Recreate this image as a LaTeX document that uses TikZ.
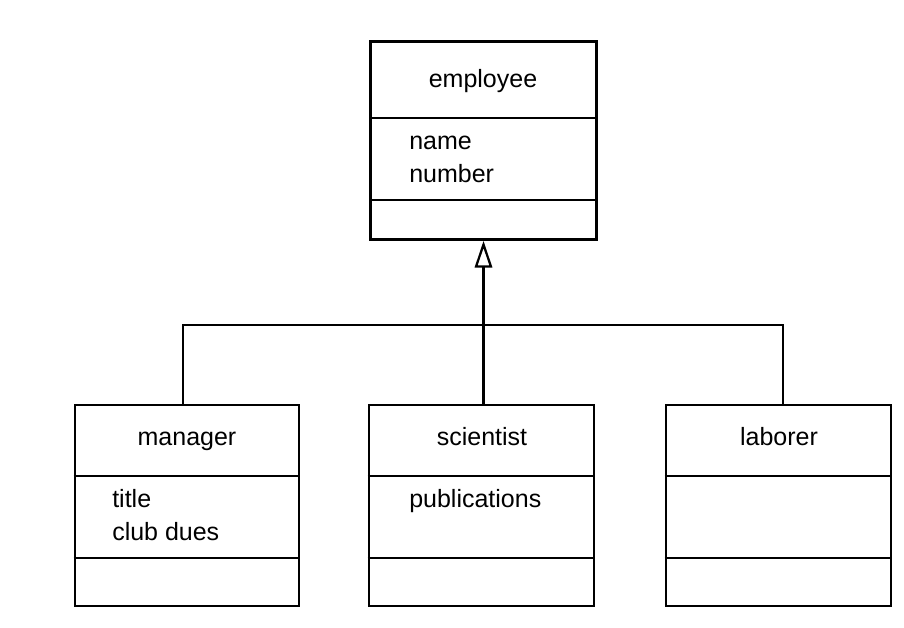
\documentclass[tikz,border=0pt]{standalone}
\usepackage{fontspec}
\setmainfont{Liberation Sans}
\usetikzlibrary{arrows.meta}
\begin{document}
\begin{tikzpicture}[x=0.75pt,y=-0.75pt,
  every node/.style={font=\fontsize{18.75pt}{24pt}\selectfont, inner sep=0pt},
  cls/.style={draw, line width=2.1pt, rectangle, fill=none},
  conn/.style={line width=2.1pt},
  divider/.style={line width=2.1pt},
  inherit/.style={conn, -{Triangle[open, length=20pt, width=13pt, line width=1.7pt]}},
  attr/.style={anchor=base west},
  cname/.style={anchor=base}
]
\useasboundingbox (0,0) rectangle (904,628);

% employee
\node[cls, minimum width=169.5pt, minimum height=148.5pt] (emp) at (483.5,140.5) {};
\node[cname] (empname) at (483,87) {employee};
\draw[divider] (emp.west |- 0,118) -- (emp.east |- 0,118);
\draw[divider] (emp.west |- 0,200) -- (emp.east |- 0,200);
\node[attr] (emp1) at (409,149) {name};
\node[attr] (emp2) at (409,182) {number};

% manager
\node[cls, minimum width=168pt, minimum height=150.75pt] (mgr) at (187,505.5) {};
\node[cname] (mgrname) at (187,445) {manager};
\draw[divider] (mgr.west |- 0,476) -- (mgr.east |- 0,476);
\draw[divider] (mgr.west |- 0,558) -- (mgr.east |- 0,558);
\node[attr] (mgr1) at (112,507) {title};
\node[attr] (mgr2) at (112,540) {club dues};

% scientist
\node[cls, minimum width=168.75pt, minimum height=150.75pt] (sci) at (481.5,505.5) {};
\node[cname] (sciname) at (482,445) {scientist};
\draw[divider] (sci.west |- 0,476) -- (sci.east |- 0,476);
\draw[divider] (sci.west |- 0,558) -- (sci.east |- 0,558);
\node[attr] (sci1) at (409,507) {publications};

% laborer
\node[cls, minimum width=168.75pt, minimum height=150.75pt] (lab) at (778.5,505.5) {};
\node[cname] (labname) at (779,445) {laborer};
\draw[divider] (lab.west |- 0,476) -- (lab.east |- 0,476);
\draw[divider] (lab.west |- 0,558) -- (lab.east |- 0,558);

% connectors
\coordinate (bar) at (483,325);
\coordinate (mgrtop) at (183,405);
\coordinate (labtop) at (783,405);
\draw[conn] (mgrtop) |- (bar) -| (labtop);
\draw[inherit] (sci.north -| emp.south) -- (emp.south);
\end{tikzpicture}
\end{document}
